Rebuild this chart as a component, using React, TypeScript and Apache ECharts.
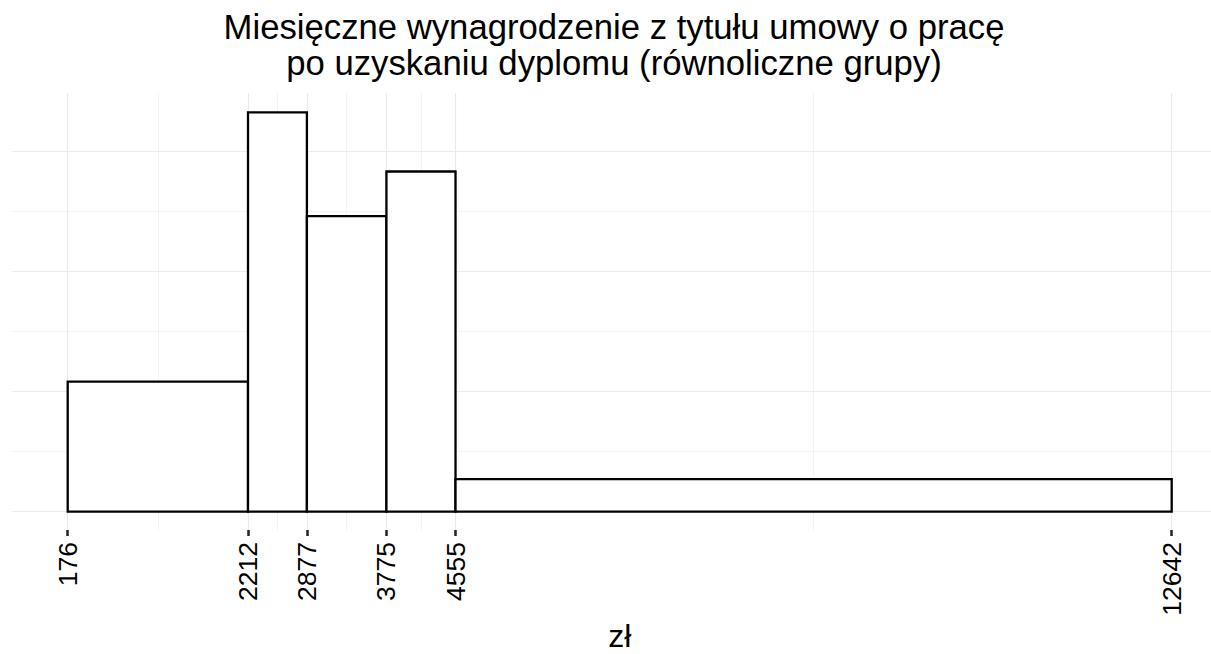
import React, { useEffect, useRef } from "react";
import * as echarts from "echarts";

// Bin edges (zł) — equal-count groups
const breaks: number[] = [176, 2212, 2877, 3775, 4555, 12642];
// Bar heights (density, in units of one major gridline step)
const heights: number[] = [1.083, 3.325, 2.462, 2.833, 0.272];
// Horizontal gridlines
const yMajor: number[] = [0, 1, 2, 3];
const yMinor: number[] = [0.5, 1.5, 2.5];

const titleText =
  "Miesięczne wynagrodzenie z tytułu umowy o pracę\npo uzyskaniu dyplomu (równoliczne grupy)";
const xTitle = "zł";

const FONT = "'Liberation Sans', Arial, Helvetica, sans-serif";

export default function App() {
  const ref = useRef<HTMLDivElement>(null);

  useEffect(() => {
    if (!ref.current) return;
    const chart = echarts.init(ref.current, undefined, { renderer: "svg" });

    const bins = heights.map((h, i) => [breaks[i], breaks[i + 1], h]);
    const xMinor = breaks.slice(0, -1).map((b, i) => (b + breaks[i + 1]) / 2);

    const majorStyle = { color: "#ebebeb", width: 1.2, type: "solid" as const };
    const minorStyle = { color: "#f3f3f3", width: 1, type: "solid" as const };

    const gridLines = [
      ...yMinor.map((v) => ({ yAxis: v, lineStyle: minorStyle })),
      ...xMinor.map((v) => ({ xAxis: v, lineStyle: minorStyle })),
      ...yMajor.map((v) => ({ yAxis: v, lineStyle: majorStyle })),
      ...breaks.map((v) => ({ xAxis: v, lineStyle: majorStyle })),
    ];

    chart.setOption({
      animation: false,
      backgroundColor: "#ffffff",
      title: {
        text: titleText,
        left: 614,
        top: 9,
        padding: 0,
        textAlign: "center",
        textStyle: {
          fontFamily: FONT,
          fontSize: 34.7,
          lineHeight: 36.3,
          fontWeight: "normal",
          color: "#000000",
        },
      },
      grid: {
        left: 12.5,
        right: -15.9,
        top: 93,
        bottom: 124,
        containLabel: false,
        outerBoundsMode: "none",
      },
      xAxis: {
        type: "value",
        min: -447.3,
        max: 13265.3,
        name: xTitle,
        nameLocation: "middle",
        nameGap: 90,
        nameMoveOverlap: false,
        nameTextStyle: {
          fontFamily: FONT,
          fontSize: 32,
          color: "#000000",
          lineHeight: 32,
          verticalAlign: "top",
        },
        axisLine: { show: false, onZero: false },
        axisTick: {
          show: true,
          customValues: breaks,
          length: 6,
          lineStyle: { color: "#222222", width: 2.5 },
        },
        axisLabel: {
          show: true,
          customValues: breaks,
          rotate: 90,
          margin: 12,
          fontFamily: FONT,
          fontSize: 26.5,
          color: "#000000",
          hideOverlap: false,
          formatter: (v: number) => String(v),
        },
        splitLine: { show: false },
        minorSplitLine: { show: false },
      },
      yAxis: {
        type: "value",
        min: -0.1525,
        max: 3.4867,
        show: false,
        splitLine: { show: false },
      },
      series: [
        {
          type: "line",
          z: 1,
          data: [[176, 0]],
          showSymbol: false,
          symbol: "none",
          lineStyle: { opacity: 0 },
          silent: true,
          markLine: {
            silent: true,
            z: 1,
            symbol: ["none", "none"],
            label: { show: false },
            animation: false,
            data: gridLines,
          },
        },
        {
          type: "custom",
          z: 10,
          data: bins,
          encode: { x: [0, 1], y: 2 },
          renderItem: (_params: any, api: any) => {
            const x0 = api.value(0);
            const x1 = api.value(1);
            const h = api.value(2);
            const p0 = api.coord([x0, 0]);
            const p1 = api.coord([x1, h]);
            return {
              type: "rect",
              shape: {
                x: p0[0],
                y: p1[1],
                width: p1[0] - p0[0],
                height: p0[1] - p1[1],
              },
              style: { fill: "#ffffff", stroke: "#000000", lineWidth: 2.3 },
            };
          },
        },
      ],
    });

    return () => chart.dispose();
  }, []);

  return (
    <div
      ref={ref}
      style={{ position: "fixed", left: 0, top: 0, width: 1211, height: 654, background: "#fff" }}
    />
  );
}
